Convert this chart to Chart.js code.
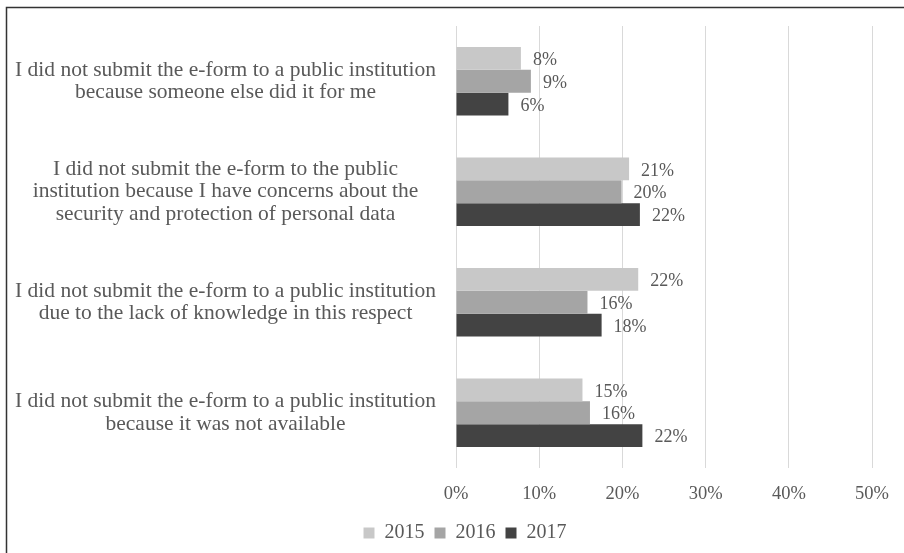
<!DOCTYPE html>
<html>
<head>
<meta charset="utf-8">
<script src="https://cdn.jsdelivr.net/npm/chart.js@4.4.0/dist/chart.umd.min.js"></script>
<style>
  html, body { margin: 0; padding: 0; background: #fff; }
  #wrap { width: 904px; height: 553px; position: relative; }
</style>
</head>
<body>
<div id="wrap"><canvas id="chart" width="904" height="553"></canvas></div>
<script>
const categories = [
    ['I did not submit the e-form to a public institution', 'because someone else did it for me'],
    ['I did not submit the e-form to the public', 'institution because I have concerns about the', 'security and protection of personal data'],
    ['I did not submit the e-form to a public institution', 'due to the lack of knowledge in this respect'],
    ['I did not submit the e-form to a public institution', 'because it was not available']
];
const years = ['2015', '2016', '2017'];
const values2015 = [7.8, 20.8, 21.9, 15.2];
const values2016 = [9.0, 19.9, 15.8, 16.1];
const values2017 = [6.3, 22.1, 17.5, 22.4];
const xTicks = [0, 10, 20, 30, 40, 50];

const colors = ['#c8c8c8', '#a5a5a5', '#434343'];
const textColor = '#595959';
const fontFamily = "'Liberation Serif', 'Times New Roman', serif";

// value labels at bar ends
const barLabels = {
    id: 'barLabels',
    afterDatasetsDraw(chart) {
        const ctx = chart.ctx;
        ctx.save();
        ctx.font = '18px ' + fontFamily;
        ctx.fillStyle = textColor;
        ctx.textAlign = 'left';
        ctx.textBaseline = 'middle';
        chart.data.datasets.forEach((ds, i) => {
            chart.getDatasetMeta(i).data.forEach((bar, j) => {
                ctx.fillText(Math.round(ds.data[j]) + '%', bar.x + 12, bar.y + 2);
            });
        });
        ctx.restore();
    }
};

// frame on top and left edges, legend nudged right
const frame = {
    id: 'frame',
    afterLayout(chart) {
        chart.legend.left += 21;
        chart.legend.right += 21;
    },
    beforeDraw(chart) {
        const ctx = chart.ctx;
        ctx.save();
        ctx.strokeStyle = '#333';
        ctx.lineWidth = 1.5;
        ctx.beginPath();
        ctx.moveTo(6.5, 553);
        ctx.lineTo(6.5, 7.5);
        ctx.lineTo(904, 7.5);
        ctx.stroke();
        ctx.restore();
    }
};

const ctx = document.getElementById('chart').getContext('2d');
new Chart(ctx, {
    type: 'bar',
    data: {
        labels: categories,
        datasets: [
            { label: years[0], data: values2015, backgroundColor: colors[0] },
            { label: years[1], data: values2016, backgroundColor: colors[1] },
            { label: years[2], data: values2017, backgroundColor: colors[2] }
        ]
    },
    options: {
        indexAxis: 'y',
        responsive: false,
        animation: false,
        layout: { padding: { left: 6, right: 22, top: 26, bottom: 0 } },
        datasets: { bar: { barPercentage: 1, categoryPercentage: 0.62 } },
        scales: {
            x: {
                min: 0,
                max: 50,
                afterBuildTicks(scale) {
                    scale.ticks = xTicks.map(v => ({ value: v }));
                },
                afterFit(scale) { scale.height = 45; },
                grid: { color: '#d9d9d9', lineWidth: 1, drawTicks: false },
                border: { display: false },
                ticks: {
                    padding: 15,
                    color: textColor,
                    font: { family: fontFamily, size: 18.5 },
                    callback: v => v + '%'
                }
            },
            y: {
                afterFit(scale) {
                    scale.width = 450;
                    scale.paddingTop = 0;
                    scale.paddingBottom = 0;
                },
                grid: { display: false, drawTicks: false },
                border: { display: false },
                ticks: {
                    padding: 20,
                    crossAlign: 'center',
                    color: textColor,
                    font: { family: fontFamily, size: 21.5, lineHeight: 1.04 }
                }
            }
        },
        plugins: {
            legend: {
                position: 'bottom',
                labels: {
                    boxWidth: 11,
                    boxHeight: 11,
                    padding: 10,
                    color: textColor,
                    font: { family: fontFamily, size: 20 }
                }
            },
            tooltip: { enabled: false }
        }
    },
    plugins: [barLabels, frame]
});
</script>
</body>
</html>
